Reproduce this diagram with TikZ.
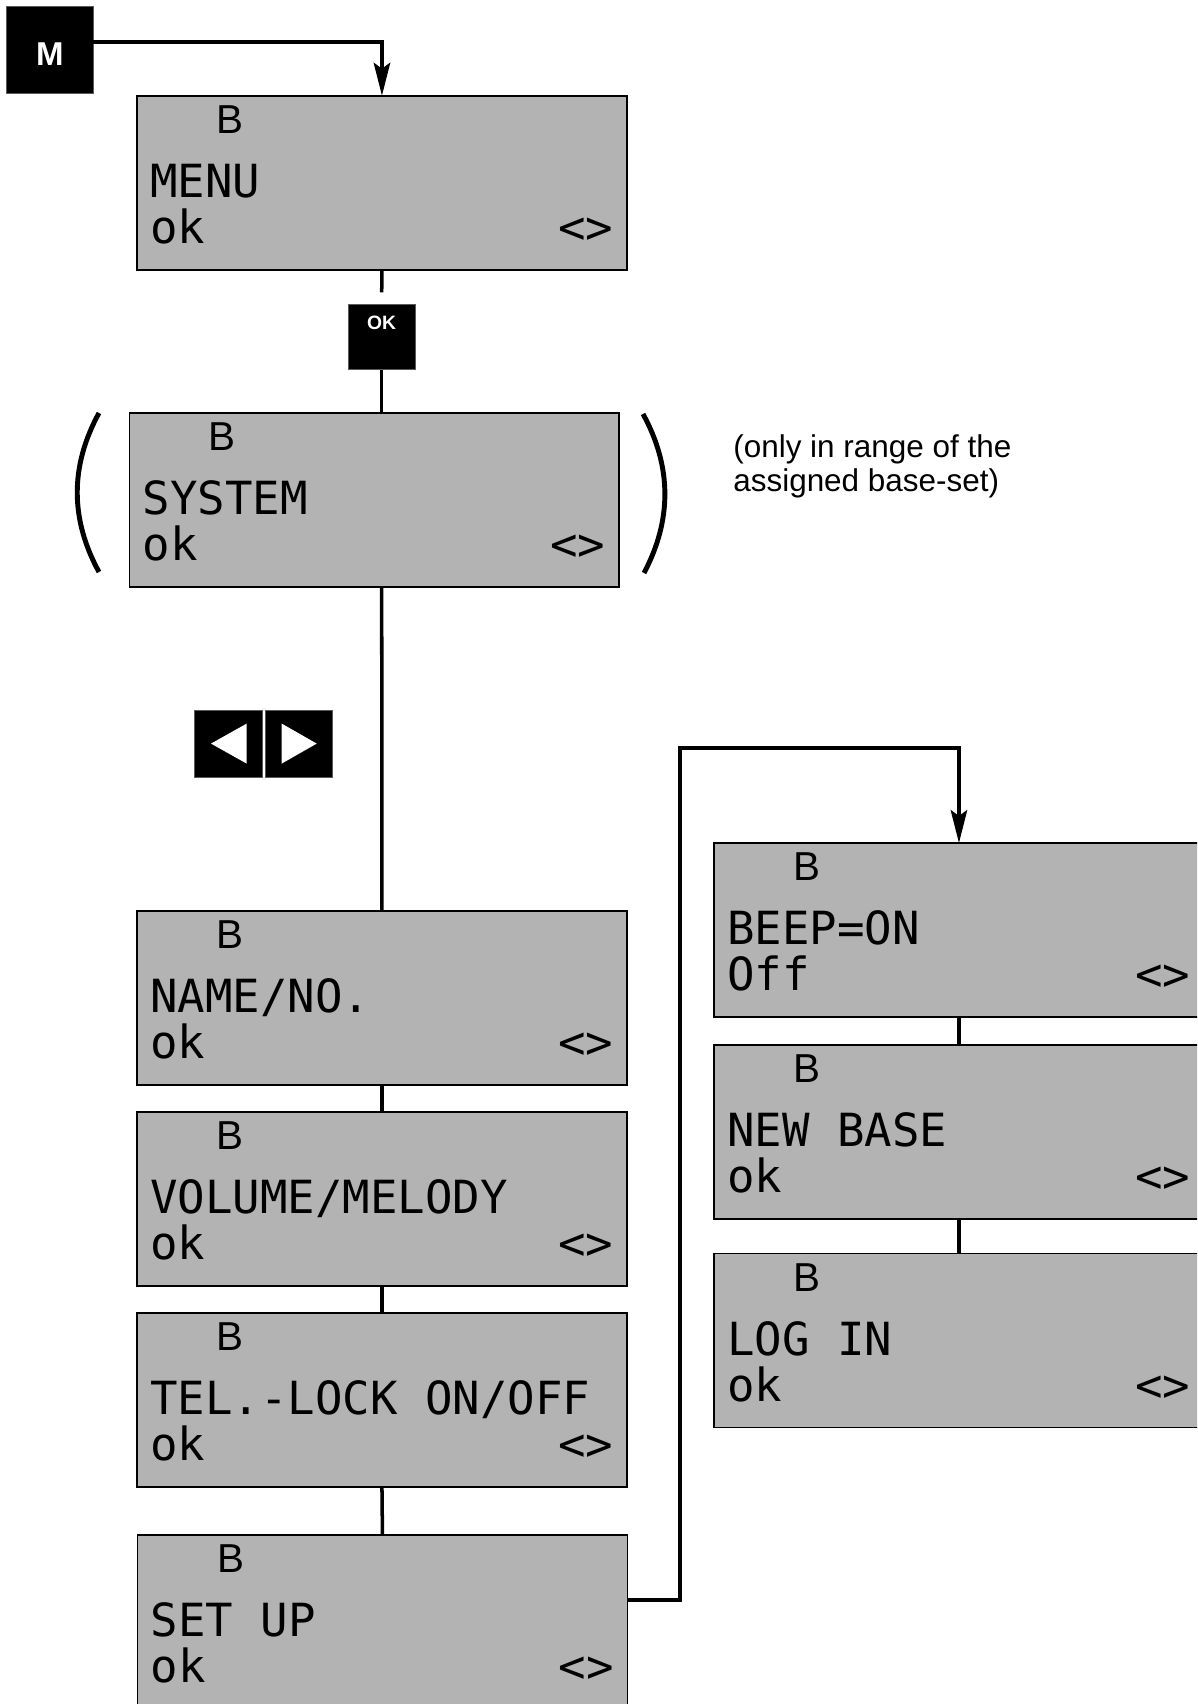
\documentclass[tikz,border=0pt]{standalone}
\usepackage{fontspec}
\setmainfont{Liberation Sans}
\newfontfamily\lcdfont{DejaVu Sans Mono}
\usetikzlibrary{calc,arrows.meta}
\definecolor{lcdgray}{RGB}{179,179,179}
\definecolor{keyedge}{RGB}{90,90,90}
\tikzset{
	screen/.style={draw=black, line width=1pt, fill=lcdgray, anchor=north west, minimum width=9.8cm, minimum height=3.48cm, inner sep=0pt, outer sep=0pt},
	basemark/.style={font=\fontsize{23}{23}\selectfont, anchor=base, inner sep=0pt},
	lcdline/.style={font=\lcdfont\fontsize{26}{26}\selectfont, anchor=base west, inner sep=0pt},
	lcdarrows/.style={font=\lcdfont\fontsize{26}{26}\selectfont, anchor=base, inner sep=0pt},
	keycap/.style={fill=black, draw=keyedge, line width=0.4pt, inner sep=0pt, outer sep=0pt, text=white},
	conn/.style={draw=black, line width=2pt},
	flow/.style={conn, -{Stealth[length=0.66cm, width=0.33cm, inset=0.12cm]}},
	paren/.style={draw=black, line width=2.8pt},
	remark/.style={font=\fontsize{17.9}{19.3}\selectfont, align=left, anchor=north west, inner sep=0pt}
}

\begin{document}
\begin{tikzpicture}[x=0.02cm, y=-0.02cm]

	\useasboundingbox (0,0) rectangle (1197,1704);
	\clip (0,0) rectangle (1197,1704);

	\foreach \n/\x/\y/\lineA/\lineB in {
		menu/137/95.7/MENU/ok,
		system/129.4/413/SYSTEM/ok,
		name/137/911/{NAME/NO.}/ok,
		volume/137/1112/{VOLUME/MELODY}/ok,
		tellock/137/1313/{TEL.-LOCK ON/OFF}/ok,
		setup/137.5/1535/SET UP/ok,
		beep/714/843/BEEP=ON/Off,
		newbase/714/1045/NEW BASE/ok,
		login/714/1253.5/LOG IN/ok
	}{
		\node[screen] (\n) at (\x,\y) {};
		\node[basemark] (\n-b) at ($(\n.north west)+(93,37.5)$) {B};
		\node[lcdline] (\n-main) at ($(\n.north west)+(13,101.5)$) {\lineA};
		\node[lcdline] (\n-sub) at ($(\n.north west)+(13,147.5)$) {\lineB};
		\node[lcdarrows] (\n-lr) at ($(\n.north west)+(448.5,147.5)$) {<>};
	}

	\node[keycap, minimum size=1.74cm, text height=17.4pt, text depth=0pt, font=\bfseries\fontsize{18.8}{18.8}\selectfont] (mkey) at (50,50) {M};
	\node[keycap, minimum width=1.346cm, minimum height=1.304cm, text depth=0.56cm, font=\bfseries\fontsize{11}{11}\selectfont] (okkey) at (381.7,337) {OK};
	\node[keycap, minimum size=1.35cm] (lkey) at (228.5,743.6) {};
	\node[keycap, minimum size=1.35cm] (rkey) at (299,743.6) {};
	\fill[white] ($(lkey.center)+(-17.5,0)$) -- ($(lkey.center)+(18.2,-20)$) -- ($(lkey.center)+(18.2,20)$) -- cycle;
	\fill[white] ($(rkey.center)+(17.7,0)$) -- ($(rkey.center)+(-17.3,-20)$) -- ($(rkey.center)+(-17.3,20)$) -- cycle;

	\draw[paren] (99,413) .. controls (70,466) and (70,519) .. (99,572);
	\draw[paren] (643,414) .. controls (672,467) and (672,520) .. (644,573);

	\node[remark] (rangenote) at (733,434) {(only in range of the\\assigned base-set)};

	\coordinate (okgap) at ($(okkey.north)+(0,-12)$);
	\coordinate (detour) at (680,748);
	\draw[flow] ($(mkey.east)+(0,-8)$) -| (menu.north);
	\draw[conn] (menu.south) -- (okgap);
	\draw[conn] (okkey.south) -- (okkey.south |- system.north);
	\draw[conn] (okkey.south |- system.south) -- (name.north);
	\draw[conn] (name.south) -- (volume.north);
	\draw[conn] (volume.south) -- (tellock.north);
	\draw[conn] (tellock.south) -- (setup.north);
	\draw[flow] ($(setup.north east)+(0,65)$) -| (detour) -| (beep.north);
	\draw[conn] (beep.south) -- (newbase.north);
	\draw[conn] (newbase.south) -- (login.north);

\end{tikzpicture}
\end{document}
